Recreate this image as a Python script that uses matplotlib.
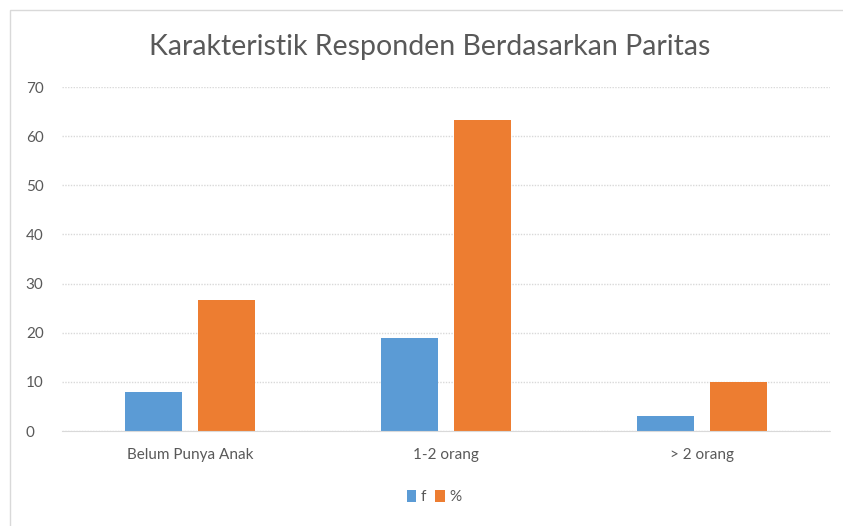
import matplotlib.pyplot as plt
import matplotlib.patches as mpatches
import numpy as np

plt.rcParams["font.family"] = ["Lato", "DejaVu Sans"]

categories = ["Belum Punya Anak", "1-2 orang", "> 2 orang"]
f_values = [8, 19, 3]
pct_values = [26.7, 63.3, 10]

C_F = "#5B9BD5"
C_PCT = "#ED7D31"
TXT = "#595959"
GRID = "#D9D9D9"

fig = plt.figure(figsize=(8.43, 5.26), dpi=100)
ax = fig.add_axes([0.0735, 0.1806, 0.9111, 0.654])

# light chart-area border (left and top edges visible)
fig.patches.append(mpatches.Rectangle(
    (10 / 843, -0.1), 1.2, 1 - 10 / 526 + 0.1,
    transform=fig.transFigure, fill=False, ec="#D9D9D9", lw=1.0))

x = np.arange(len(categories))
w = 0.223
off = 0.143
ax.bar(x - off, f_values, w, color=C_F, label="f", zorder=2)
ax.bar(x + off, pct_values, w, color=C_PCT, label="%", zorder=2)

ax.set_xlim(-0.5, 2.5)
ax.set_ylim(0, 70)
ax.set_yticks(range(0, 71, 10))
ax.yaxis.grid(True, color=GRID, lw=1.0, ls=(0, (1, 1)), zorder=0)
ax.set_axisbelow(True)
for s in ("top", "right", "left"):
    ax.spines[s].set_visible(False)
ax.spines["bottom"].set_color(GRID)
ax.spines["bottom"].set_linestyle((0, (1, 1)))
ax.tick_params(axis="both", length=0, colors=TXT, labelsize=11)
ax.tick_params(axis="y", pad=26)
ax.tick_params(axis="x", pad=12)
ax.set_xticks(x)
ax.set_xticklabels(categories)
for lbl in ax.get_yticklabels():
    lbl.set_horizontalalignment("left")

fig.text(0.51, 0.91, "Karakteristik Responden Berdasarkan Paritas",
         ha="center", va="center", fontsize=20.5, color=TXT)

fig.legend(loc="center", bbox_to_anchor=(0.515, 0.055), ncol=2, frameon=False,
           fontsize=11, labelcolor=TXT, handlelength=0.6, handleheight=0.9,
           handletextpad=0.3, columnspacing=0.6)

fig.savefig("out.png", dpi=100)
